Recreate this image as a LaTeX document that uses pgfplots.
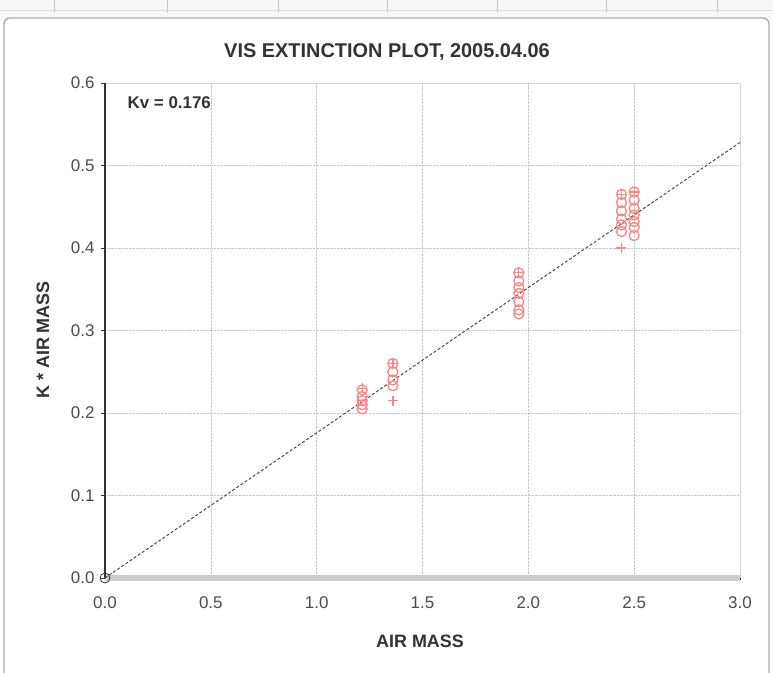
\documentclass[border=0pt]{standalone}
\usepackage{pgfplots}
\pgfplotsset{compat=1.18}
\usepackage{fontspec}
\setmainfont{Liberation Sans}
\definecolor{ptred}{RGB}{255,100,100}
\begin{document}
\begin{tikzpicture}
\useasboundingbox (0bp,0bp) rectangle (773bp,673bp);
\fill[white] (0bp,0bp) rectangle (773bp,673bp);
% top strip (fragment of a table above)
\fill[black!3] (0bp,655bp) rectangle (773bp,673bp);
\foreach \xx in {54,167,278,387,497,606,717} {\draw[gray!45, line width=0.8] (\xx bp,660bp) -- (\xx bp,673bp);}
\draw[gray!30, line width=0.8] (0bp,663bp) -- (773bp,663bp);
% frame
\draw[rounded corners=6, gray!65, line width=1.4] (4bp,-10bp) rectangle (769bp,655bp);
\begin{axis}[
  at={(105bp,95bp)}, anchor=south west, scale only axis,
  width=635bp, height=495bp,
  xmin=0, xmax=3, ymin=0, ymax=0.6,
  xtick={0,0.5,1,1.5,2,2.5,3},
  ytick={0,0.1,0.2,0.3,0.4,0.5,0.6},
  xtick pos=bottom, ytick pos=left,
  grid=major, grid style={densely dotted, gray!45},
  axis line style={draw=none},
  tick style={black!80, line width=1},
  xtick align=center, ytick align=outside, major tick length=4bp,
  /pgf/number format/assume math mode=true,
  /pgf/number format/fixed, /pgf/number format/fixed zerofill,
  /pgf/number format/precision=1,
  xticklabel style={font=\fontsize{17}{17}\selectfont, text=black!70, yshift=-13bp},
  yticklabel style={font=\fontsize{17}{17}\selectfont, text=black!70, xshift=-3bp},
  clip=false,
]
% axis lines
\draw[gray!35, line width=1] (axis cs:0,0.6) -- (axis cs:3,0.6) -- (axis cs:3,0);
\draw[gray!40, line width=7] (axis cs:0,0) -- (axis cs:3,0);
\draw[black!80, line width=1.3] (axis cs:0,0) -- (axis cs:0,0.6);
% fit line
\addplot[densely dashed, black!70, line width=1] coordinates {(0,0) (3,0.528)};
% data
\addplot[only marks, mark=o, mark size=5, ptred!80, line width=1.3] coordinates {
(1.215,0.205) (1.215,0.21) (1.215,0.215) (1.215,0.22) (1.215,0.228)
(1.36,0.26) (1.36,0.25) (1.36,0.24) (1.36,0.233)
(1.955,0.37) (1.955,0.36) (1.955,0.352) (1.955,0.345) (1.955,0.335) (1.955,0.325) (1.955,0.32)
(2.44,0.465) (2.44,0.455) (2.44,0.445) (2.44,0.435) (2.44,0.428) (2.44,0.42)
(2.50,0.468) (2.50,0.458) (2.50,0.448) (2.50,0.44) (2.50,0.432) (2.50,0.425) (2.50,0.415)
};
\addplot[only marks, mark=+, mark size=5, ptred!80, line width=1.3] coordinates {
(1.36,0.215) (1.36,0.26) (2.44,0.40) (1.215,0.23) (1.955,0.37) (2.44,0.465) (2.50,0.468)
};
\addplot[only marks, mark=o, mark size=5, black!80, fill=white, line width=0.8] coordinates {(0,0)};
\node[anchor=west, font=\bfseries\fontsize{17}{17}\selectfont, text=black!80] at (axis cs:0.09,0.576) {Kv = 0.176};
\end{axis}
\node[font=\bfseries\fontsize{20}{20}\selectfont, text=black!80] at (387bp,621bp) {VIS EXTINCTION PLOT, 2005.04.06};
\node[font=\bfseries\fontsize{18}{18}\selectfont, text=black!80] at (420bp,32bp) {AIR MASS};
\node[font=\bfseries\fontsize{18}{18}\selectfont, text=black!80, rotate=90] at (43bp,333bp) {K * AIR MASS};
\end{tikzpicture}
\end{document}
